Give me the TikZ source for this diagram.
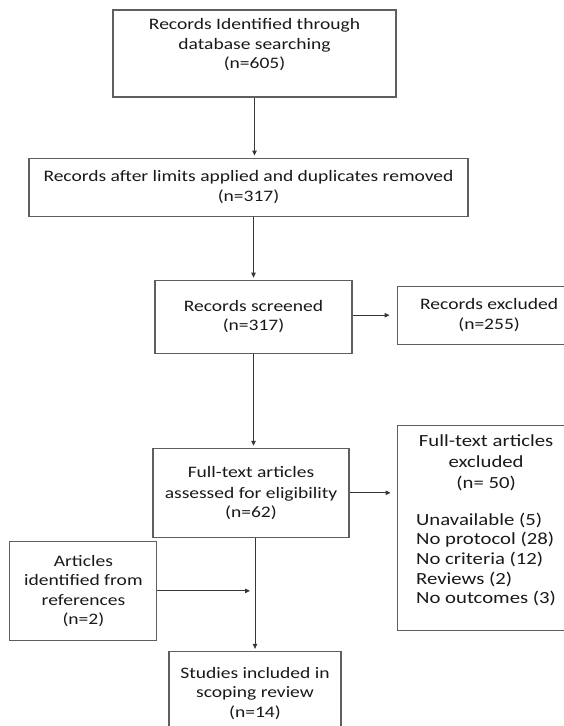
\documentclass[tikz,border=0pt]{standalone}
\usepackage{fontspec}
\setmainfont{Carlito}[FakeStretch=1.22]
\usetikzlibrary{arrows.meta,positioning}
\definecolor{boxgray}  {RGB}{95, 95, 95}
\definecolor{linegray} {RGB}{55, 55, 55}
\definecolor{textgray} {RGB}{25, 25, 25}

\begin{document}
\begin{tikzpicture}[
  x=1pt, y=-1pt,
  every node/.style={font=\fontsize{16}{19.5}\selectfont, text=textgray, align=center},
  box/.style={draw=boxgray, line width=1.1pt, inner sep=0pt},
  arrow/.style={-{Triangle[length=5pt,width=4.5pt]}, line width=0.9pt, linegray}
]
  \useasboundingbox (0,0) rectangle (564,726);
  \clip (0,0) rectangle (564,726);

  % Nodes
  \node (ident) [box, minimum width=283pt, minimum height=87pt] at (254.5,53.5) {Records Identified through\\database searching\\(n=605)\\\mbox{}};
  \node (after) [box, minimum width=439pt, minimum height=58pt, below=60pt of ident, xshift=-6pt] {Records after limits applied and duplicates removed\\(n=317)};
  \node (screened) [box, minimum width=197pt, minimum height=73pt, below=63pt of after, xshift=5pt] {Records screened\\(n=317)};
  \node (excl) [box, minimum width=184pt, minimum height=58pt, right=44pt of screened, yshift=1.5pt] {Records excluded\\(n=255)};

  \node (fulltext) [box, minimum width=196pt, minimum height=89pt, below=94pt of screened, xshift=-2.5pt] {Full-text articles\\[1.5pt]assessed for eligibility\\(n=62)};
  \node (fullex) [box, minimum width=178pt, minimum height=205pt, below right=80pt and 0pt of excl.south west, font=\fontsize{17}{19.7}\selectfont] {Full-text articles\\[1.5pt]excluded\\[1pt](n= 50)\\[17pt]\begin{tabular}[t]{@{}l@{}}Unavailable (5)\\No protocol (28)\\No criteria (12)\\Reviews (2)\\No outcomes (3)\end{tabular}\\[10pt]\mbox{}};

  \node (articles) [box, minimum width=147pt, minimum height=99pt, below left=3pt and -5pt of fulltext.south west] {Articles\\identified from\\references\\(n=2)};
  \node (studies) [box, minimum width=172pt, minimum height=84pt, below=113pt of fulltext, xshift=4pt] {Studies included in\\scoping review\\(n=14)};

  % Paths
  \draw [arrow, shorten >=2pt] (ident) -- (ident |- after.north);
  \draw [arrow, shorten >=2pt] (screened |- after.south) -- (screened);
  \draw [arrow, shorten >=7pt] (screened.east |- excl) -- (excl);
  \draw [arrow, shorten >=2pt] (screened) -- (screened |- fulltext.north);
  \draw [arrow, shorten >=6pt] (fulltext) -- (fulltext -| fullex.west);
  \draw [arrow, shorten >=2pt] (studies |- fulltext.south) -- (studies);
  \draw [arrow, shorten >=5pt] (articles) -- (articles -| studies);
\end{tikzpicture}
\end{document}
